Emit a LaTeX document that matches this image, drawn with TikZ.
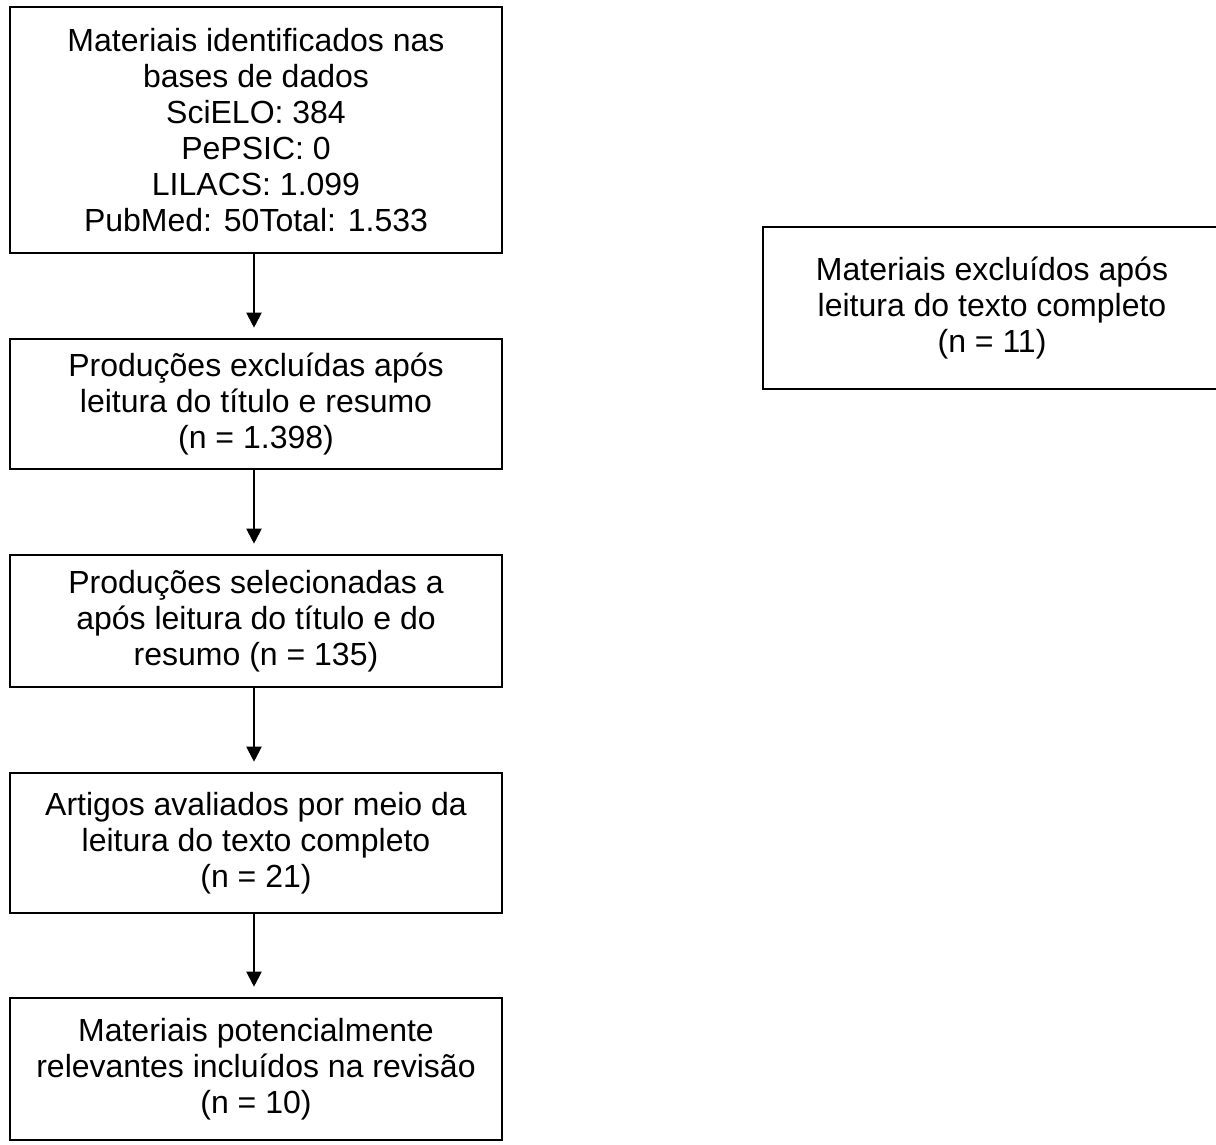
\documentclass[tikz,border=0pt]{standalone}
\usepackage{fontspec}
\setmainfont{Liberation Sans}
\usetikzlibrary{arrows.meta}
\begin{document}
\begin{tikzpicture}[x=1pt,y=-1pt,
  box/.style={draw, line width=2.6pt, align=center, inner sep=0pt,
    font=\fontsize{32}{36}\selectfont, minimum width=492pt},
  flow/.style={line width=2pt, -{Triangle[width=15pt,length=15pt]}, shorten >=10pt}]
\useasboundingbox (0,0) rectangle (1216,1144);
\node[box, minimum height=246pt] (b1) at (256,130)
  {Materiais identificados nas\\bases de dados\\SciELO: 384\\PePSIC: 0\\LILACS: 1.099\\PubMed: 50Total: 1.533};
\node[box, minimum height=130pt] (b2) at (256,404)
  {Produções excluídas após\\leitura do título e resumo\\(n = 1.398)};
\node[box, minimum height=132pt] (b3) at (256,621)
  {Produções selecionadas a\\após leitura do título e do\\resumo (n = 135)};
\node[box, minimum height=140pt] (b4) at (256,843)
  {Artigos avaliados por meio da\\leitura do texto completo\\(n = 21)};
\node[box, minimum height=142pt] (b5) at (256,1069)
  {Materiais potencialmente\\relevantes incluídos na revisão\\(n = 10)};
\node[box, minimum width=458pt, minimum height=162pt] (r) at (992,308)
  {Materiais excluídos após\\leitura do texto completo\\(n = 11)};
\draw[flow] ([xshift=-2pt]b1.south) -- ([xshift=-2pt]b2.north);
\draw[flow] ([xshift=-2pt]b2.south) -- ([xshift=-2pt]b3.north);
\draw[flow] ([xshift=-2pt]b3.south) -- ([xshift=-2pt]b4.north);
\draw[flow] ([xshift=-2pt]b4.south) -- ([xshift=-2pt]b5.north);
\end{tikzpicture}
\end{document}
